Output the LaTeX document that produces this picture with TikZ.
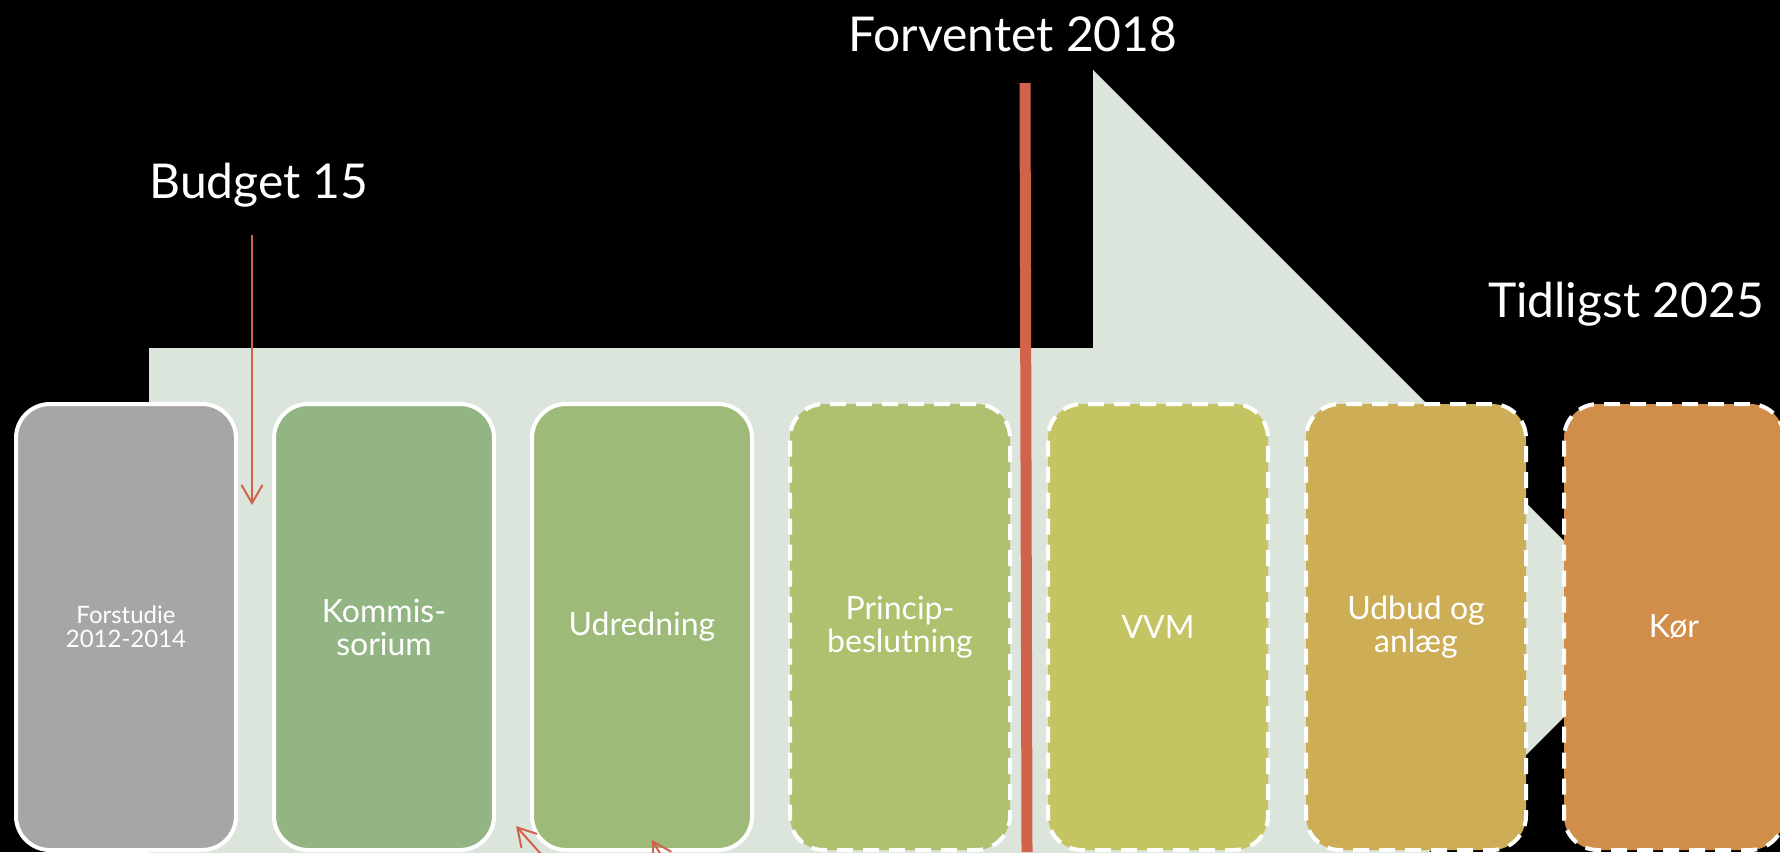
\documentclass[tikz,border=0pt]{standalone}
\usepackage{fontspec}
\setmainfont{Lato}
\usetikzlibrary{shapes, arrows.meta, positioning}
\definecolor{arrowbg}{RGB}{220,229,220}
\definecolor{markred}{RGB}{208,99,74}
\definecolor{phaseA}{RGB}{166,166,166}
\definecolor{phaseB}{RGB}{147,181,132}
\definecolor{phaseC}{RGB}{158,186,120}
\definecolor{phaseD}{RGB}{175,192,110}
\definecolor{phaseE}{RGB}{196,196,99}
\definecolor{phaseF}{RGB}{205,174,87}
\definecolor{phaseG}{RGB}{209,142,74}

\begin{document}
\begin{tikzpicture}
  [
    x=0.5pt, y=-0.5pt,
    Phase/.style={rectangle, rounded corners=17pt, draw=white, line width=2pt, minimum width=110pt, minimum height=223pt, text=white, align=center, font=\fontsize{16}{16.5}\selectfont},
    Planned/.style={Phase, dash pattern=on 8pt off 5pt},
    Label/.style={text=white, font=\fontsize{24}{24}\selectfont},
    Marker/.style={draw=markred, line width=1pt, -{Straight Barb[length=9pt, width=10.5pt]}}
  ]
  % Background
  \useasboundingbox (0,0) rectangle (1780,852);
  \fill[black] (0,0) rectangle (1780,852);
  \begin{scope}
    \clip (0,0) rectangle (1780,852);
    \fill[arrowbg] (149,348) -- (1093,348) -- (1093,70) -- (1652,629) -- (1093,1188) -- (1093,910) -- (149,910) -- cycle;
  \end{scope}
  % Nodes
  \node[Phase, fill=phaseA, font=\fontsize{12}{12}\selectfont] (forstudie) at (126,627) {Forstudie\\2012-2014};
  \node[Phase, fill=phaseB] (kommis) at (384,627) {Kommis-\\sorium};
  \node[Phase, fill=phaseC] (udredning) at (642,627) {Udredning};
  \node[Planned, fill=phaseD] (princip) at (900,627) {Princip-\\beslutning};
  \node[Planned, fill=phaseE] (vvm) at (1158,627) {VVM};
  \node[Planned, fill=phaseF] (udbud) at (1416,627) {Udbud og\\anlæg};
  \node[Planned, fill=phaseG] (koer) at (1674,627) {Kør};
  \node[Label] (budget) at (259,185) {Budget 15};
  \node[Label] (forventet) at (1013,34) {Forventet 2018};
  \node[Label] (tidligst) at (1626,304) {Tidligst 2025};
  \coordinate (b15top) at (252,235);
  \coordinate (b15tip) at (252,505);
  \coordinate (f18top) at (1025,83);
  \coordinate (f18bot) at (1027,852);
  \coordinate (lowAtip) at (516,826);
  \coordinate (lowAend) at (548,862);
  \coordinate (lowBtip) at (652,840);
  \coordinate (lowBend) at (670,870);
  % Lines
  \path [Marker] (b15top) -- (b15tip);
  \path [draw=markred, line width=5.5pt] (f18top) -- (f18bot);
  \begin{scope}
    \clip (0,0) rectangle (1780,852);
    \path [Marker] (lowAend) -- (lowAtip);
    \path [Marker] (lowBend) -- (lowBtip);
  \end{scope}
\end{tikzpicture}
\end{document}
